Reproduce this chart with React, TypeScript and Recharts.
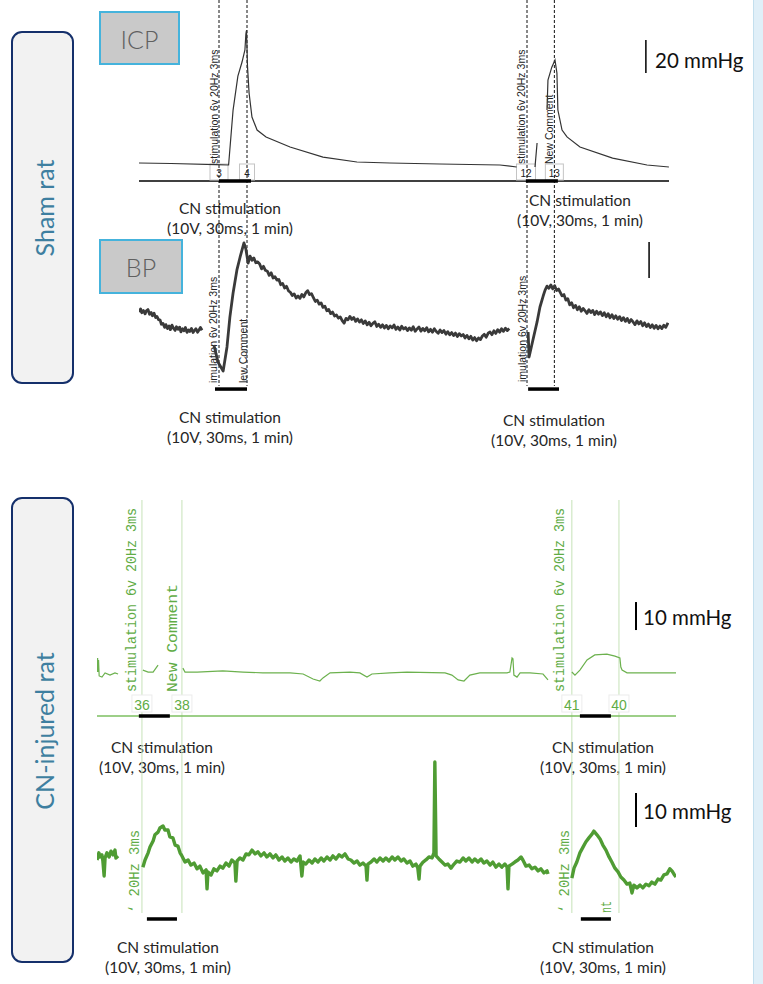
import React from 'react';
import { LineChart, Line, XAxis, YAxis, ReferenceLine } from 'recharts';

// time in minutes, pressure in mmHg; null = gap in the recording
type Pt = [number, number | null];

const shamIcp: Pt[] = [
  [0, 10.9], [1.0, 10.6], [2.4, 9.9], [2.8, 9.7], [2.94, 43], [3.09, 63.6], [3.22, 72.1],
  [3.31, 79.4], [3.34, 89.1], [3.36, 91.5], [3.39, 69.7], [3.44, 53.3], [3.53, 38.8],
  [3.69, 30.9], [3.97, 26.7], [4.72, 20.6], [5.75, 14.5], [6.81, 11.5], [7.84, 10.9],
  [9.4, 10.3], [11.28, 9.7], [11.8, 8.5], [12.0, null], [12.375, 8.5], [12.44, 23],
  [12.6, null], [12.75, 43], [12.78, 61.2], [12.9, 69], [13.0, 73.3], [13.06, 65.5],
  [13.09, 43], [13.22, 30.9], [13.375, 26.7], [13.78, 20.6], [14.8, 13.9], [15.875, 9.7],
  [16.56, 8.5],
];

const shamBp: Pt[] = [
  [0.0, 107.2], [0.05, 108.9], [0.09, 106.8], [0.14, 108.0], [0.19, 106.2], [0.23, 107.9],
  [0.28, 108.6], [0.33, 106.0], [0.38, 106.9], [0.42, 105.1], [0.47, 106.5], [0.52, 104.2],
  [0.56, 104.8], [0.61, 103.0], [0.66, 102.7], [0.70, 100.4], [0.75, 100.9], [0.80, 98.7],
  [0.84, 100.2], [0.89, 98.0], [0.94, 99.5], [0.98, 97.4], [1.03, 99.9], [1.08, 98.1],
  [1.13, 97.0], [1.17, 99.0], [1.22, 97.6], [1.27, 98.8], [1.31, 96.2], [1.36, 97.9],
  [1.41, 96.8], [1.45, 98.6], [1.50, 95.9], [1.55, 97.3], [1.59, 96.4], [1.64, 98.1],
  [1.69, 95.8], [1.73, 96.9], [1.78, 97.9], [1.83, 96.0], [1.88, 97.4], [1.92, 98.6],
  [1.97, 97.1], [2.05, null],
  [2.34, 88.9], [2.47, 79.4], [2.63, 74.4], [2.75, 87.8], [2.84, 104.4], [2.94, 117.8],
  [3.06, 130.6], [3.16, 137.8], [3.22, 141.7], [3.28, 145.6], [3.34, 142.2], [3.41, 134.4],
  [3.47, 138.3], [3.53, 136.0], [3.59, 137.2], [3.65, 134.6], [3.71, 135.1], [3.77, 133.9],
  [3.83, 131.2], [3.89, 132.6], [3.95, 130.4], [4.01, 129.9], [4.07, 127.6], [4.13, 129.0],
  [4.19, 126.1], [4.25, 126.8], [4.31, 124.9], [4.37, 125.3], [4.43, 122.4], [4.49, 123.1],
  [4.55, 120.6], [4.61, 121.5], [4.67, 119.0], [4.73, 118.2], [4.79, 116.4], [4.85, 117.3],
  [4.91, 115.0], [4.97, 116.1], [5.03, 114.8], [5.09, 117.0], [5.15, 115.6], [5.21, 117.9],
  [5.27, 119.1], [5.33, 116.9], [5.39, 117.4], [5.45, 115.2], [5.51, 113.1], [5.57, 113.8],
  [5.63, 111.6], [5.69, 112.3], [5.75, 109.8], [5.81, 110.4], [5.87, 107.9], [5.93, 108.6],
  [5.99, 106.3], [6.05, 107.2], [6.11, 105.0], [6.17, 105.6], [6.23, 103.8], [6.29, 104.5],
  [6.35, 102.4], [6.41, 101.0], [6.47, 103.7], [6.53, 102.9], [6.59, 104.8], [6.65, 103.1],
  [6.71, 104.2], [6.77, 102.0], [6.83, 103.4], [6.89, 101.6], [6.95, 102.9], [7.01, 100.8],
  [7.07, 102.3], [7.13, 100.1], [7.19, 101.5], [7.25, 99.6], [7.31, 100.9], [7.37, 101.8],
  [7.43, 99.2], [7.49, 100.4], [7.55, 98.7], [7.61, 100.1], [7.67, 98.3], [7.73, 99.8],
  [7.79, 97.9], [7.85, 99.5], [7.91, 98.4], [7.97, 100.0], [8.03, 97.6], [8.09, 98.9],
  [8.15, 97.2], [8.21, 99.3], [8.27, 97.8], [8.33, 98.6], [8.39, 96.9], [8.45, 98.4],
  [8.51, 97.1], [8.57, 99.0], [8.63, 96.5], [8.69, 97.8], [8.75, 98.9], [8.81, 96.6],
  [8.87, 98.1], [8.93, 96.8], [8.99, 98.5], [9.05, 96.2], [9.11, 97.6], [9.17, 96.0],
  [9.23, 97.9], [9.29, 96.4], [9.35, 95.4], [9.41, 97.2], [9.47, 95.8], [9.53, 96.9],
  [9.59, 94.9], [9.65, 96.3], [9.71, 94.6], [9.77, 95.8], [9.83, 94.1], [9.89, 95.5],
  [9.95, 93.6], [10.01, 95.2], [10.07, 93.9], [10.13, 94.7], [10.19, 92.8], [10.25, 94.2],
  [10.31, 92.3], [10.37, 93.7], [10.43, 91.6], [10.49, 93.0], [10.55, 91.2], [10.61, 92.8],
  [10.67, 91.9], [10.73, 93.9], [10.79, 94.8], [10.85, 93.2], [10.91, 95.4], [10.97, 96.1],
  [11.03, 94.6], [11.09, 96.8], [11.15, 95.3], [11.21, 97.4], [11.27, 96.0], [11.33, 97.9],
  [11.39, 96.5], [11.45, 98.2], [11.51, 96.9], [11.57, 98.0], [11.75, null],
  [12.16, 96.1], [12.19, 82.2], [12.31, 91.7], [12.44, 101.7], [12.53, 110], [12.63, 116.1],
  [12.69, 119.4], [12.75, 121.6], [12.81, 120.4], [12.87, 122.3], [12.93, 120.1], [12.99, 121.8],
  [13.05, 119.2], [13.11, 120.0], [13.16, 118.3], [13.22, 116.2], [13.28, 116.9], [13.34, 113.8],
  [13.40, 114.6], [13.46, 111.2], [13.52, 112.4], [13.58, 109.6], [13.64, 110.9], [13.70, 108.5],
  [13.76, 110.1], [13.82, 107.6], [13.88, 109.2], [13.94, 107.9], [14.00, 106.4], [14.06, 108.5],
  [14.12, 106.9], [14.18, 108.1], [14.24, 105.8], [14.30, 107.6], [14.36, 106.0], [14.42, 107.3],
  [14.48, 105.2], [14.54, 106.8], [14.60, 104.6], [14.66, 106.3], [14.72, 104.0], [14.78, 105.7],
  [14.84, 103.6], [14.90, 105.1], [14.96, 103.2], [15.02, 104.6], [15.08, 102.5], [15.14, 104.1],
  [15.20, 102.0], [15.26, 103.6], [15.32, 101.4], [15.38, 103.0], [15.44, 101.7], [15.50, 100.2],
  [15.56, 102.3], [15.62, 100.6], [15.68, 101.9], [15.74, 99.6], [15.80, 101.2], [15.86, 99.1],
  [15.92, 100.5], [15.98, 98.6], [16.04, 100.1], [16.10, 98.2], [16.16, 99.8], [16.22, 97.9],
  [16.28, 99.4], [16.34, 98.0], [16.40, 99.9], [16.46, 98.7], [16.53, 101.2],
];

const cnIcp: Pt[] = [
  [0, 15.7], [0.02, 20.7], [0.03, 15.7], [0.05, 20], [0.07, 14.3], [0.16, 13.9], [0.26, 15.4],
  [0.42, 14.6], [0.58, 15.4], [0.68, 15], [0.8, null],
  [1.48, 16.4], [1.65, 15.7], [1.81, 15.7], [1.97, 18.2], [2.2, null],
  [2.77, 17.1], [2.84, 15.7], [3.23, 15.7], [4.06, 16.1], [4.71, 15.7], [5.35, 15.4],
  [6.23, 15.4], [6.65, 15], [6.97, 13.2], [7.19, 12.5], [7.29, 13.6], [7.52, 15.4],
  [8.16, 15.7], [8.48, 15.4], [8.71, 13.9], [8.87, 15], [9.45, 15.4], [10.0, 15.7],
  [11.23, 15.4], [11.45, 14.6], [11.65, 12.9], [11.84, 12.5], [12.03, 14.6], [12.35, 15.4],
  [13.23, 15.4], [13.32, 15.7], [13.39, 20.7], [13.42, 20.4], [13.45, 14.6], [13.55, 13.9],
  [13.65, 15.4], [13.97, 15.4], [14.39, 15], [14.55, 12.9], [14.8, null],
  [15.32, 15.7], [15.42, 14.6], [15.58, 16.4], [15.81, 20], [16.06, 21.8], [16.45, 22.1],
  [16.71, 21.4], [16.87, 20.7], [16.9, 17.5], [16.94, 16.4], [17.1, 15.4], [17.74, 15.4],
  [18.68, 15.4],
];

const cnBp: Pt[] = [
  [0, 80], [0.06, 82.1], [0.1, 80.9], [0.16, 81.5], [0.19, 79.7], [0.23, 75.3], [0.26, 80.6],
  [0.32, 82.1], [0.39, 80.9], [0.45, 82.6], [0.52, 81.5], [0.58, 82.9], [0.61, 80.6],
  [0.68, 81.2], [0.8, null],
  [1.48, 77.9], [1.55, 80], [1.65, 82.1], [1.71, 83.8], [1.81, 85.6], [1.87, 87.4], [1.97, 88.2],
  [2.03, 89.4], [2.13, 90], [2.19, 88.8], [2.29, 88.8], [2.35, 86.8], [2.45, 86.5], [2.52, 84.4],
  [2.61, 84.1], [2.68, 82.1], [2.74, 81.2], [2.84, 79.4], [2.94, 80], [3.03, 78.5], [3.13, 79.1],
  [3.23, 77.4], [3.32, 78.2], [3.42, 76.2], [3.52, 77.1], [3.55, 71.5], [3.58, 76.5], [3.68, 75.6],
  [3.77, 77.4], [3.87, 76.8], [3.97, 78.2], [4.06, 77.6], [4.16, 79.1], [4.26, 78.2], [4.35, 80],
  [4.45, 79.1], [4.48, 73.8], [4.52, 79.7], [4.61, 80.6], [4.71, 80], [4.81, 81.8], [4.9, 81.5],
  [5.0, 82.9], [5.1, 81.8], [5.19, 82.4], [5.29, 81.2], [5.39, 82.1], [5.48, 80.9], [5.58, 81.8],
  [5.68, 80.6], [5.77, 81.5], [5.87, 80], [5.97, 80.9], [6.06, 79.7], [6.16, 80.6], [6.26, 79.4],
  [6.35, 80.3], [6.45, 79.7], [6.55, 81.2], [6.61, 75.3], [6.65, 79.4], [6.74, 78.8], [6.84, 80],
  [6.94, 79.1], [7.03, 80.3], [7.13, 79.4], [7.23, 80.6], [7.32, 79.7], [7.42, 80.9], [7.52, 80],
  [7.61, 81.2], [7.71, 80.3], [7.81, 81.5], [7.9, 80.9], [8.0, 81.8], [8.1, 80.3], [8.19, 80],
  [8.29, 79.1], [8.39, 79.7], [8.48, 78.5], [8.58, 79.1], [8.68, 78.2], [8.71, 74.1], [8.74, 78.8],
  [8.84, 79.4], [8.94, 80.3], [9.03, 79.4], [9.13, 80.6], [9.23, 79.7], [9.32, 80.6], [9.42, 79.7],
  [9.52, 80.9], [9.61, 80], [9.71, 80.9], [9.81, 79.7], [9.9, 80.3], [10.0, 79.1], [10.1, 79.7],
  [10.19, 78.2], [10.29, 78.8], [10.35, 77.6], [10.39, 74.4], [10.42, 78.2], [10.52, 79.4],
  [10.61, 80], [10.71, 80.9], [10.81, 80.6], [10.87, 82.1], [10.9, 108.8], [10.94, 81.2],
  [11.03, 80.3], [11.13, 79.4], [11.23, 78.5], [11.32, 78.8], [11.42, 77.6], [11.52, 78.8],
  [11.61, 79.7], [11.71, 79.4], [11.81, 80.6], [11.9, 79.7], [12.0, 80.6], [12.1, 79.4],
  [12.19, 80.3], [12.29, 79.4], [12.39, 80.3], [12.48, 79.1], [12.58, 79.7], [12.68, 78.5],
  [12.77, 79.4], [12.87, 77.9], [12.97, 78.8], [13.06, 77.9], [13.16, 78.8], [13.23, 77.9],
  [13.26, 71.5], [13.29, 78.2], [13.39, 78.8], [13.48, 79.4], [13.58, 80], [13.68, 80.9],
  [13.74, 80], [13.84, 78.2], [13.94, 78.5], [14.03, 77.4], [14.13, 77.9], [14.23, 76.8],
  [14.32, 77.4], [14.42, 76.2], [14.52, 76.8], [14.55, 75.9], [14.8, null],
  [15.32, 74.7], [15.39, 77.6], [15.48, 79.4], [15.58, 82.1], [15.68, 83.8], [15.77, 85.3],
  [15.87, 86.5], [15.97, 87.6], [16.03, 88.5], [16.13, 87.4], [16.23, 86.2], [16.32, 84.4],
  [16.42, 82.9], [16.52, 80.9], [16.61, 79.4], [16.71, 77.6], [16.81, 76.5], [16.9, 75],
  [17.0, 74.1], [17.1, 72.9], [17.19, 73.2], [17.26, 70.3], [17.32, 72.6], [17.42, 71.8],
  [17.52, 72.6], [17.61, 71.8], [17.71, 72.9], [17.81, 72.4], [17.9, 73.5], [18.0, 72.9],
  [18.1, 74.4], [18.19, 74.1], [18.29, 75.6], [18.39, 75.9], [18.48, 77.4], [18.55, 76.8],
  [18.61, 75.9], [18.68, 75],
];

// comment markers (min) and their channel numbers
const shamMarks = [2.5, 3.375, 12.125, 12.98];
const shamMarkNums = ['3', '4', '12', '13'];
const cnMarks = [1.45, 2.74, 15.32, 16.84];
const cnMarkNums = ['36', '38', '41', '40'];

// stimulation periods [start, end] in min
const shamIcpStim = [[2.5, 3.5], [12.09, 13.09]];
const shamBpStim = [[2.375, 3.375], [12.16, 13.125]];
const cnIcpStim = [[1.35, 2.35], [15.58, 16.58]];
const cnBpStim = [[1.61, 2.58], [15.61, 16.58]];

// scale bars: time, low, high (mmHg)
const shamIcpScale = [15.84, 65.5, 85.5];
const shamBpScale = [15.94, 126.1, 146.1];
const cnIcpScale = [17.39, 30.7, 40.7];
const cnBpScale = [17.39, 89.7, 99.7];

const pts = (a: Pt[]) => a.map(([t, v]) => ({ t, v }));

const SANS = 'Lato, "Open Sans", sans-serif';
const SMALL = '"Liberation Sans", Arial, sans-serif';
const MONO = '"Liberation Mono", "DejaVu Sans Mono", monospace';
const NARROW = '"Liberation Sans Narrow", "Liberation Sans", sans-serif';
const GREEN_TXT = '#5fac45';

type Note = { text: string; dx: number; bottom: number; size: number; family: string; color: string; len?: number };
type Tag = { text: string; dx: number; top: number; w: number; h: number; size: number; family: string; color: string; stroke: string; fill: string };

function MarkNotes(props: any) {
  const { viewBox, notes, tag } = props;
  if (!viewBox) return null;
  const x = viewBox.x;
  const t = tag as Tag | undefined;
  return (
    <g>
      {(notes as Note[]).map((n, i) => (
        <text key={i} transform={`translate(${x + n.dx},${n.bottom}) rotate(-90)`} fontSize={n.size}
          fontFamily={n.family} fill={n.color} dominantBaseline="central"
          {...(n.len ? { textLength: n.len, lengthAdjust: 'spacingAndGlyphs' } : {})}>
          {n.text}
        </text>
      ))}
      {t && (
        <g>
          <rect x={x + t.dx - t.w / 2} y={t.top} width={t.w} height={t.h} fill={t.fill} stroke={t.stroke} />
          <text x={x + t.dx} y={t.top + t.h / 2 + 1} fontSize={t.size} fontFamily={t.family} fill={t.color}
            textAnchor="middle" dominantBaseline="central">{t.text}</text>
        </g>
      )}
    </g>
  );
}

const sn = (text: string, dx: number, bottom: number): Note => ({ text, dx, bottom, size: 10.5, family: SMALL, color: '#222' });
const shamNotes: Note[][] = [
  [sn('stimulation 6v 20Hz 3ms', -5, 164), sn('imulation 6v 20Hz 3ms', -6, 383)],
  [sn('lew Comment', -4.5, 383)],
  [sn('stimulation 6v 20Hz 3ms', -6, 164), sn('imulation 6v 20Hz 3ms', -5, 382)],
  [sn('New Comment', -5, 164)],
];
const shamTagDx = [0, 0, -1, 0];
const shamTagW = [18, 15, 19, 18];

const gn = (text: string, dx: number, bottom: number, len: number): Note => ({ text, dx, bottom, size: 14, family: MONO, color: GREEN_TXT, len });
const cnNotes: Note[][] = [
  [gn('stimulation 6v 20Hz 3ms', -10, 192, 184), gn('\u2018 20Hz 3ms', -7, 413, 83)],
  [gn('New Comment', -9, 192, 108)],
  [gn('stimulation 6v 20Hz 3ms', -12, 192, 184), gn('\u2018 20Hz 3ms', -7, 413, 83)],
  [gn('nt', -12, 413, 12)],
];

const stimTexts = [
  [230, 208, 228], [580, 200, 220], [230, 417, 437], [554, 420, 440],
  [162, 747, 767], [603, 747, 767], [168, 947, 967], [603, 947, 967],
];

function Overlay() {
  return (
    <svg width={763} height={984} style={{ position: 'absolute', left: 0, top: 0 }}>
      <rect x={753} y={0} width={10} height={984} fill="#e0eff8" />
      <line x1={753.5} y1={0} x2={753.5} y2={984} stroke="#c3dfee" />
      <rect x={12} y={32} width={61} height={351} rx={10} fill="#f2f2f2" stroke="#15306b" strokeWidth={2} />
      <text transform="translate(44,208) rotate(-90)" textAnchor="middle" dominantBaseline="central"
        fontFamily={SANS} fontSize={25} fill="#3e7fa0">Sham rat</text>
      <rect x={12} y={498} width={61} height={464} rx={10} fill="#f2f2f2" stroke="#15306b" strokeWidth={2} />
      <text transform="translate(44,731) rotate(-90)" textAnchor="middle" dominantBaseline="central"
        fontFamily={SANS} fontSize={25} fill="#3e7fa0">CN-injured rat</text>
      <rect x={100} y={12} width={79} height={52} fill="#c9c9c9" stroke="#45b3dc" strokeWidth={2} />
      <text x={139.5} y={39} textAnchor="middle" dominantBaseline="central" fontFamily={SANS} fontWeight={300}
        fontSize={25} fill="#606060">ICP</text>
      <rect x={100} y={240} width={82} height={53} fill="#c9c9c9" stroke="#45b3dc" strokeWidth={2} />
      <text x={141} y={267} textAnchor="middle" dominantBaseline="central" fontFamily={SANS} fontWeight={300}
        fontSize={25} fill="#606060">BP</text>
      {stimTexts.map(([x, y1, y2], i) => (
        <g key={i} fontFamily={SANS} fontSize={15.5} fill="#262626" textAnchor="middle">
          <text x={x} y={y1} dominantBaseline="central">CN stimulation</text>
          <text x={x} y={y2} dominantBaseline="central">(10V, 30ms, 1 min)</text>
        </g>
      ))}
      <text x={655} y={60} dominantBaseline="central" fontFamily={SANS} fontSize={20.5} fill="#111">20 mmHg</text>
      <text x={643} y={617} dominantBaseline="central" fontFamily={SANS} fontSize={20.5} fill="#111">10 mmHg</text>
      <text x={643} y={811} dominantBaseline="central" fontFamily={SANS} fontSize={20.5} fill="#111">10 mmHg</text>
    </svg>
  );
}

function ShamChart() {
  const end = 16.5625;
  return (
    <div style={{ position: 'absolute', left: 139, top: 0 }}>
      <LineChart width={530} height={395} margin={{ top: 0, right: 0, bottom: 0, left: 0 }}>
        <XAxis dataKey="t" type="number" domain={[0, end]} hide allowDataOverflow />
        <YAxis yAxisId="icp" type="number" domain={[-129.7, 109.7]} hide allowDataOverflow />
        <YAxis yAxisId="bp" type="number" domain={[61.1, 280.6]} hide allowDataOverflow />
        <ReferenceLine yAxisId="icp" ifOverflow="visible" segment={[{ x: 0, y: 0 }, { x: end, y: 0 }]} stroke="#000" strokeWidth={1.5} />
        {shamMarks.map((m, i) => (
          <ReferenceLine key={'m' + i} yAxisId="icp" ifOverflow="visible"
            segment={[{ x: m, y: 109.7 }, { x: m, y: -124.2 }]} stroke="#111" strokeDasharray="3 2"
            label={<MarkNotes notes={shamNotes[i]} tag={{
              text: shamMarkNums[i], dx: shamTagDx[i], top: 164, w: shamTagW[i], h: 16, size: 10,
              family: SMALL, color: '#222', stroke: '#c4c4c4', fill: 'none',
            }} />} />
        ))}
        {shamIcpStim.map(([a, b], i) => (
          <ReferenceLine key={'si' + i} yAxisId="icp" ifOverflow="visible" segment={[{ x: a, y: 0 }, { x: b, y: 0 }]} stroke="#000" strokeWidth={3.5} />
        ))}
        {shamBpStim.map(([a, b], i) => (
          <ReferenceLine key={'sb' + i} yAxisId="bp" ifOverflow="visible" segment={[{ x: a, y: 64.4 }, { x: b, y: 64.4 }]} stroke="#000" strokeWidth={3.5} />
        ))}
        <ReferenceLine yAxisId="icp" ifOverflow="visible" segment={[{ x: shamIcpScale[0], y: shamIcpScale[1] }, { x: shamIcpScale[0], y: shamIcpScale[2] }]} stroke="#000" strokeWidth={1.5} />
        <ReferenceLine yAxisId="bp" ifOverflow="visible" segment={[{ x: shamBpScale[0], y: shamBpScale[1] }, { x: shamBpScale[0], y: shamBpScale[2] }]} stroke="#000" strokeWidth={1.5} />
        <Line yAxisId="icp" data={pts(shamIcp)} dataKey="v" type="linear" dot={false} stroke="#333" strokeWidth={1.2} isAnimationActive={false} connectNulls={false} />
        <Line yAxisId="bp" data={pts(shamBp)} dataKey="v" type="linear" dot={false} stroke="#3a3a3a" strokeWidth={2.8} strokeLinejoin="round" isAnimationActive={false} connectNulls={false} />
      </LineChart>
    </div>
  );
}

function CnChart() {
  const end = 18.68;
  return (
    <div style={{ position: 'absolute', left: 97, top: 500 }}>
      <LineChart width={579} height={425} margin={{ top: 0, right: 0, bottom: 0, left: 0 }}>
        <XAxis dataKey="t" type="number" domain={[0, end]} hide allowDataOverflow />
        <YAxis yAxisId="icp" type="number" domain={[-74.64, 77.14]} hide allowDataOverflow />
        <YAxis yAxisId="bp" type="number" domain={[60.88, 185.88]} hide allowDataOverflow />
        {cnMarks.map((m, i) => (
          <ReferenceLine key={'m' + i} yAxisId="icp" ifOverflow="visible"
            segment={[{ x: m, y: 77.14 }, { x: m, y: -70.36 }]} stroke="#c6e2b8" strokeWidth={1}
            label={<MarkNotes notes={cnNotes[i]} tag={{
              text: cnMarkNums[i], dx: 0, top: 195, w: 20, h: 17, size: 14,
              family: NARROW, color: GREEN_TXT, stroke: '#ececec', fill: '#fff',
            }} />} />
        ))}
        <ReferenceLine yAxisId="icp" ifOverflow="visible" segment={[{ x: 0, y: 0 }, { x: end, y: 0 }]} stroke="#7dbf60" strokeWidth={1.5} />
        {cnIcpStim.map(([a, b], i) => (
          <ReferenceLine key={'ci' + i} yAxisId="icp" ifOverflow="visible" segment={[{ x: a, y: 0 }, { x: b, y: 0 }]} stroke="#000" strokeWidth={3.5} />
        ))}
        {cnBpStim.map(([a, b], i) => (
          <ReferenceLine key={'cb' + i} yAxisId="bp" ifOverflow="visible" segment={[{ x: a, y: 62.65 }, { x: b, y: 62.65 }]} stroke="#000" strokeWidth={3.5} />
        ))}
        <ReferenceLine yAxisId="icp" ifOverflow="visible" segment={[{ x: cnIcpScale[0], y: cnIcpScale[1] }, { x: cnIcpScale[0], y: cnIcpScale[2] }]} stroke="#000" strokeWidth={2} />
        <ReferenceLine yAxisId="bp" ifOverflow="visible" segment={[{ x: cnBpScale[0], y: cnBpScale[1] }, { x: cnBpScale[0], y: cnBpScale[2] }]} stroke="#000" strokeWidth={2} />
        <Line yAxisId="icp" data={pts(cnIcp)} dataKey="v" type="linear" dot={false} stroke="#6cb14e" strokeWidth={1.2} isAnimationActive={false} connectNulls={false} />
        <Line yAxisId="bp" data={pts(cnBp)} dataKey="v" type="linear" dot={false} stroke="#4f9c33" strokeWidth={3.4} strokeLinejoin="round" isAnimationActive={false} connectNulls={false} />
      </LineChart>
    </div>
  );
}

export default function App() {
  return (
    <div style={{ position: 'absolute', left: 0, top: 0, width: 763, height: 984, overflow: 'hidden', background: '#fff' }}>
      <Overlay />
      <ShamChart />
      <CnChart />
    </div>
  );
}
